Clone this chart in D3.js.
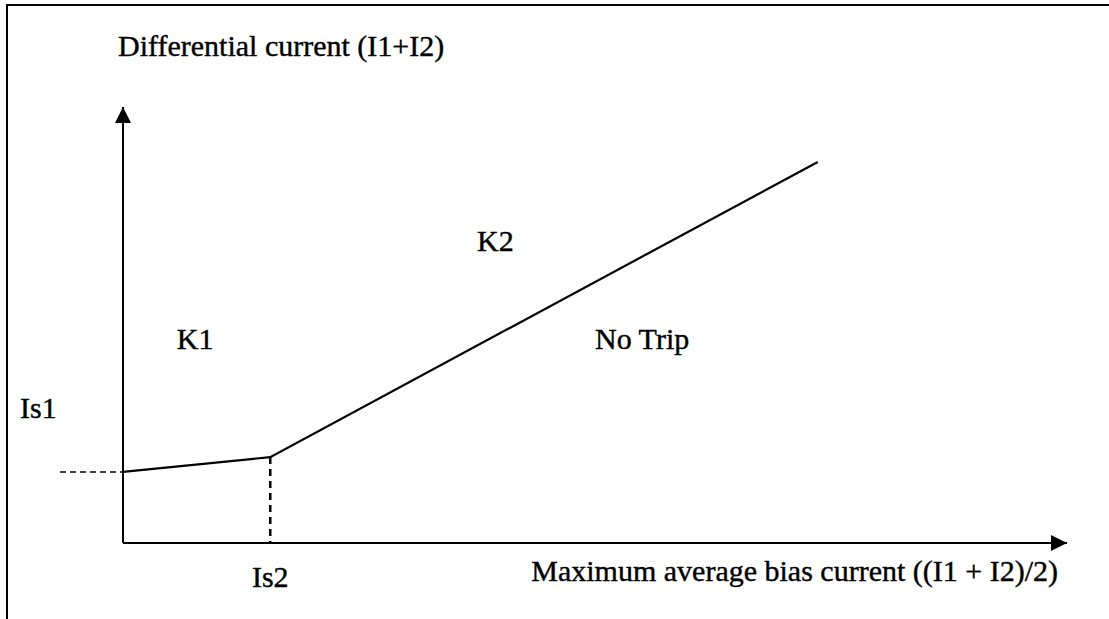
<!DOCTYPE html>
<html>
<head>
<meta charset="utf-8">
<script src="https://cdn.jsdelivr.net/npm/d3@7"></script>
<style>
  body { margin: 0; background: #fff; }
  text { font-family: "Liberation Serif", "Times New Roman", serif; fill: #000; stroke: #000; stroke-width: 0.4px; }
</style>
</head>
<body>
<svg width="1109" height="619"></svg>
<script>
// bias characteristic (arbitrary units)
const biasCurrent = [0, 1.56, 7.36];
const diffCurrent = [1.63, 1.97, 8.74];
const is1Level = 1.63;
const is2Level = 1.56;

const regionNames = ["K1", "K2", "No Trip"];
const regionBias = [0.57, 3.75, 5.0];
const regionDiff = [4.45, 6.7, 4.45];

const svg = d3.select("svg");
const width = +svg.attr("width");
const height = +svg.attr("height");

// axis extents
const x = d3.scaleLinear().domain([0, 10]).range([123, 1067]);
const y = d3.scaleLinear().domain([0, 10]).range([543, 107]);

// border of the scanned figure
svg.append("path")
    .attr("d", `M7,${height} V5 H${width}`)
    .attr("fill", "none")
    .attr("stroke", "#000")
    .attr("stroke-width", 2);

// arrow heads
const defs = svg.append("defs");
defs.append("marker")
    .attr("id", "arrow")
    .attr("viewBox", "0 0 10 10")
    .attr("refX", 10)
    .attr("refY", 5)
    .attr("markerWidth", 16)
    .attr("markerHeight", 16)
    .attr("markerUnits", "userSpaceOnUse")
    .attr("orient", "auto")
    .append("path")
    .attr("d", "M0,0 L10,5 L0,10 Z")
    .attr("fill", "#000");

// axes
svg.append("line")
    .attr("x1", x(0)).attr("y1", y(0))
    .attr("x2", x(0)).attr("y2", y(10))
    .attr("stroke", "#000").attr("stroke-width", 2)
    .attr("marker-end", "url(#arrow)");

svg.append("line")
    .attr("x1", x(0)).attr("y1", y(0))
    .attr("x2", x(10)).attr("y2", y(0))
    .attr("stroke", "#000").attr("stroke-width", 2)
    .attr("marker-end", "url(#arrow)");

// dashed guides for Is1 and Is2
svg.append("line")
    .attr("x1", 60).attr("y1", y(is1Level))
    .attr("x2", x(0)).attr("y2", y(is1Level))
    .attr("stroke", "#000").attr("stroke-width", 1.5)
    .attr("stroke-dasharray", "6,4");

svg.append("line")
    .attr("x1", x(is2Level)).attr("y1", y(diffCurrent[1]))
    .attr("x2", x(is2Level)).attr("y2", y(0))
    .attr("stroke", "#000").attr("stroke-width", 2.5)
    .attr("stroke-dasharray", "7,5");

// characteristic
const line = d3.line()
    .x(d => x(d[0]))
    .y(d => y(d[1]));

svg.append("path")
    .datum(d3.zip(biasCurrent, diffCurrent))
    .attr("d", line)
    .attr("fill", "none")
    .attr("stroke", "#000")
    .attr("stroke-width", 2.2);

// labels
const fs = 30;

svg.append("text")
    .attr("x", 118).attr("y", 56)
    .attr("font-size", fs)
    .text("Differential current (I1+I2)");

svg.append("text")
    .attr("x", 1058).attr("y", 581)
    .attr("text-anchor", "end")
    .attr("font-size", fs)
    .text("Maximum average bias current ((I1 + I2)/2)");

svg.append("text")
    .attr("x", 20).attr("y", 418)
    .attr("font-size", fs)
    .text("Is1");

svg.append("text")
    .attr("x", x(is2Level)).attr("y", 587)
    .attr("text-anchor", "middle")
    .attr("font-size", fs)
    .text("Is2");

svg.append("g")
    .selectAll("text")
    .data(regionNames)
    .enter()
    .append("text")
    .attr("x", (d, i) => x(regionBias[i]))
    .attr("y", (d, i) => y(regionDiff[i]))
    .attr("font-size", fs)
    .text(d => d);
</script>
</body>
</html>
